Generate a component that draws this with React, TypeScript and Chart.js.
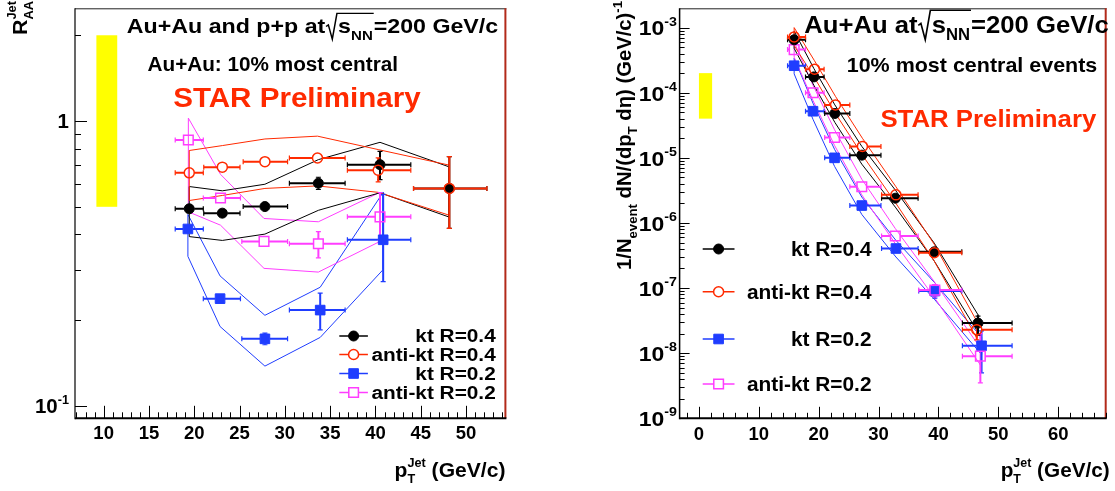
import React, { useEffect, useRef } from "react";
import { Chart, registerables } from "chart.js";

Chart.register(...registerables);

/* ================= Left panel : R_AA(Jet) vs pT ================= */
const L_KT04_PT = [19.45, 23.1, 27.8, 33.7, 40.5, 48.15];
const L_KT04_VAL = [0.492, 0.475, 0.501, 0.605, 0.703, 0.58];
const L_KT04_ERR_UP = [0.01, 0.01, 0.01, 0.03, 0.08, 0.17];
const L_KT04_ERR_DN = [0.01, 0.01, 0.01, 0.03, 0.08, 0.16];
const L_KT04_BIN_LO = [17.9, 21.05, 25.4, 30.5, 36.9, 44.2];
const L_KT04_BIN_HI = [21.0, 25.05, 30.3, 36.65, 43.9, 52.3];
const L_KT04_SYS_HI = [0.589, 0.569, 0.6, 0.732, 0.842, 0.69];
const L_KT04_SYS_LO = [0.393, 0.381, 0.401, 0.486, 0.56, 0.46];

const L_AKT04_PT = [19.45, 23.1, 27.8, 33.6, 40.3, 48.15];
const L_AKT04_VAL = [0.658, 0.689, 0.72, 0.742, 0.672, 0.58];
const L_AKT04_ERR_UP = [0.01, 0.01, 0.01, 0.015, 0.07, 0.17];
const L_AKT04_ERR_DN = [0.01, 0.01, 0.01, 0.015, 0.06, 0.16];
const L_AKT04_BIN_LO = [17.9, 21.05, 25.4, 30.5, 36.9, 44.2];
const L_AKT04_BIN_HI = [21.0, 25.05, 30.3, 36.65, 43.9, 52.3];
const L_AKT04_SYS_HI = [0.788, 0.82, 0.865, 0.885, 0.794, 0.7];
const L_AKT04_SYS_LO = [0.526, 0.548, 0.58, 0.592, 0.562, 0.467];

const L_KT02_PT = [19.3, 22.85, 27.8, 33.9, 40.85];
const L_KT02_VAL = [0.418, 0.238, 0.172, 0.217, 0.383];
const L_KT02_ERR_UP = [0.01, 0.005, 0.008, 0.032, 0.17];
const L_KT02_ERR_DN = [0.01, 0.005, 0.008, 0.032, 0.11];
const L_KT02_BIN_LO = [17.9, 21.0, 25.25, 30.5, 36.9];
const L_KT02_BIN_HI = [21.0, 25.1, 30.3, 36.65, 43.9];
const L_KT02_SYS_HI = [0.47, 0.286, 0.208, 0.261, 0.562];
const L_KT02_SYS_LO = [0.335, 0.19, 0.138, 0.174, 0.301];

const L_AKT02_PT = [19.35, 22.9, 27.7, 33.7, 40.5];
const L_AKT02_VAL = [0.858, 0.537, 0.378, 0.371, 0.461];
const L_AKT02_ERR_UP = [0.01, 0.01, 0.01, 0.038, 0.1];
const L_AKT02_ERR_DN = [0.01, 0.01, 0.01, 0.04, 0.08];
const L_AKT02_BIN_LO = [17.9, 21.0, 25.25, 30.5, 36.9];
const L_AKT02_BIN_HI = [21.0, 25.1, 30.3, 36.65, 43.9];
const L_AKT02_SYS_HI = [1.024, 0.65, 0.455, 0.443, 0.562];
const L_AKT02_SYS_LO = [0.48, 0.431, 0.304, 0.295, 0.378];

const L_NORM_BOX_PT = [9.2, 11.5];
const L_NORM_BOX_VAL = [0.5, 2.0];
const L_X_TICKS = [10, 15, 20, 25, 30, 35, 40, 45, 50];
const L_Y_TICKS = [0.1, 1];
const L_Y_TICK_LABELS = [["10", "-1"], ["1", ""]];

/* ================= Right panel : spectra ================= */
const R_BIN_LO = [14.8, 17.8, 21.0, 25.2, 30.5, 36.7, 44.0];
const R_BIN_HI = [17.8, 20.9, 25.2, 30.4, 36.6, 43.9, 52.3];

const R_KT04_PT = [15.9, 19.2, 22.7, 27.2, 32.8, 39.3, 46.6];
const R_KT04_VAL = [6.5e-4, 1.75e-4, 4.8e-5, 1.1e-5, 2.4e-6, 3.6e-7, 2.9e-8];
const R_KT04_ERR_UP = [2e-5, 6e-6, 1.5e-6, 4e-7, 1e-7, 2.5e-8, 8e-9];
const R_KT04_ERR_DN = [2e-5, 6e-6, 1.5e-6, 4e-7, 1e-7, 2.5e-8, 1e-8];
const R_KT04_SYS_HI = [8.8e-4, 2.35e-4, 6.5e-5, 1.5e-5, 3.2e-6, 4.9e-7, 3.9e-8];
const R_KT04_SYS_LO = [4.8e-4, 1.3e-4, 3.5e-5, 8.0e-6, 1.75e-6, 2.6e-7, 2.1e-8];

const R_AKT04_PT = [15.9, 19.3, 22.8, 27.3, 32.9, 39.3, 46.4];
const R_AKT04_VAL = [7.2e-4, 2.3e-4, 6.5e-5, 1.5e-5, 2.7e-6, 3.5e-7, 2.3e-8];
const R_AKT04_ERR_UP = [2.5e-5, 8e-6, 2e-6, 5e-7, 1e-7, 2.5e-8, 6e-9];
const R_AKT04_ERR_DN = [2.5e-5, 8e-6, 2e-6, 5e-7, 1e-7, 2.5e-8, 7e-9];
const R_AKT04_SYS_HI = [1.0e-3, 3.1e-4, 8.8e-5, 2.0e-5, 3.6e-6, 4.7e-7, 3.1e-8];
const R_AKT04_SYS_LO = [5.3e-4, 1.7e-4, 4.8e-5, 1.1e-5, 2.0e-6, 2.6e-7, 1.7e-8];

const R_KT02_PT = [15.9, 19.05, 22.65, 27.2, 32.9, 39.4, 47.2];
const R_KT02_VAL = [2.6e-4, 5.2e-5, 1.0e-5, 1.85e-6, 4.05e-7, 9.0e-8, 1.3e-8];
const R_KT02_ERR_UP = [1e-5, 2e-6, 4e-7, 8e-8, 2.5e-8, 2.2e-8, 9e-9];
const R_KT02_ERR_DN = [1e-5, 2e-6, 4e-7, 8e-8, 2.5e-8, 2e-8, 8e-9];
const R_KT02_SYS_HI = [3.4e-4, 6.9e-5, 1.35e-5, 2.5e-6, 5.4e-7, 1.2e-7, 1.75e-8];
const R_KT02_SYS_LO = [1.95e-4, 3.9e-5, 7.4e-6, 1.35e-6, 3.0e-7, 6.6e-8, 9.5e-9];

const R_AKT02_PT = [15.9, 19.05, 22.65, 27.2, 32.8, 39.4, 47.0];
const R_AKT02_VAL = [4.6e-4, 1.0e-4, 2.05e-5, 3.6e-6, 6.3e-7, 9.3e-8, 9.0e-9];
const R_AKT02_ERR_UP = [1.5e-5, 4e-6, 8e-7, 1.5e-7, 3e-8, 2e-8, 1.1e-8];
const R_AKT02_ERR_DN = [1.5e-5, 4e-6, 8e-7, 1.5e-7, 3e-8, 2e-8, 5.5e-9];
const R_AKT02_SYS_HI = [6.0e-4, 1.3e-4, 2.7e-5, 4.7e-6, 8.2e-7, 1.22e-7, 1.2e-8];
const R_AKT02_SYS_LO = [3.5e-4, 7.6e-5, 1.55e-5, 2.7e-6, 4.8e-7, 7.0e-8, 6.6e-9];

const R_NORM_BOX_PT = [0, 2.2];
const R_NORM_BOX_VAL = [4e-5, 2e-4];
const R_X_TICKS = [0, 10, 20, 30, 40, 50, 60];
const R_Y_TICKS = [1e-9, 1e-8, 1e-7, 1e-6, 1e-5, 1e-4, 1e-3];
const R_Y_TICK_LABELS = [["10", "-9"], ["10", "-8"], ["10", "-7"], ["10", "-6"], ["10", "-5"], ["10", "-4"], ["10", "-3"]];

const LEGEND_LABELS = ["kt R=0.4", "anti-kt R=0.4", "kt R=0.2", "anti-kt R=0.2"];

/* ================= styling ================= */
const FONT = '"Liberation Sans", Arial, Helvetica, sans-serif';
const BLACK = "#000000";
const RED = "#ff2a00";
const BLUE = "#1f3dff";
const MAGENTA = "#ff3dff";
const YELLOW = "#ffff00";
const FRAME_RIGHT = "#b22a1a";

type Seg = { t?: string; k?: number; dy?: number; sqrt?: Seg[]; sup?: Seg; sub?: Seg };

function setFont(ctx: CanvasRenderingContext2D, fs: number, k?: number) {
  ctx.font = `bold ${fs * (k ?? 1)}px ${FONT}`;
}
function segsWidth(ctx: CanvasRenderingContext2D, segs: Seg[], fs: number): number {
  let w = 0;
  for (const s of segs) {
    if (s.sqrt) w += fs * 0.55 + segsWidth(ctx, s.sqrt, fs) + fs * 0.04;
    else if (s.sup || s.sub) {
      w += Math.max(s.sup ? segsWidth(ctx, [s.sup], fs) : 0, s.sub ? segsWidth(ctx, [s.sub], fs) : 0);
    } else {
      setFont(ctx, fs, s.k);
      w += ctx.measureText(s.t || "").width;
    }
  }
  return w;
}
function segsDraw(ctx: CanvasRenderingContext2D, segs: Seg[], x: number, y: number, fs: number, color: string): number {
  for (const s of segs) {
    if (s.sqrt) {
      const inner = segsWidth(ctx, s.sqrt, fs);
      ctx.strokeStyle = color;
      ctx.lineWidth = fs * 0.065;
      ctx.beginPath();
      ctx.moveTo(x + fs * 0.03, y - fs * 0.32);
      ctx.lineTo(x + fs * 0.13, y - fs * 0.4);
      ctx.lineTo(x + fs * 0.3, y + fs * 0.28);
      ctx.lineTo(x + fs * 0.5, y - fs * 0.95);
      ctx.lineTo(x + fs * 0.55 + inner + fs * 0.04, y - fs * 0.95);
      ctx.stroke();
      x = segsDraw(ctx, s.sqrt, x + fs * 0.55, y, fs, color) + fs * 0.04;
    } else if (s.sup || s.sub) {
      let w = 0;
      if (s.sup) w = Math.max(w, segsDraw(ctx, [s.sup], x, y, fs, color) - x);
      if (s.sub) w = Math.max(w, segsDraw(ctx, [s.sub], x, y, fs, color) - x);
      x += w;
    } else {
      setFont(ctx, fs, s.k);
      ctx.fillStyle = color;
      ctx.fillText(s.t || "", x, y + (s.dy ?? 0) * fs);
      x += ctx.measureText(s.t || "").width;
    }
  }
  return x;
}
type TextOpt = { x: number; y: number; fs: number; color?: string; align?: "left" | "right" | "center"; fit?: number; sx?: number; rot?: boolean };
function drawRich(ctx: CanvasRenderingContext2D, segs: Seg[], o: TextOpt) {
  ctx.save();
  ctx.textAlign = "left";
  ctx.textBaseline = "alphabetic";
  const w = segsWidth(ctx, segs, o.fs);
  const sx = o.fit ? o.fit / w : o.sx ?? 1;
  ctx.translate(o.x, o.y);
  if (o.rot) ctx.rotate(-Math.PI / 2);
  ctx.scale(sx, 1);
  const start = o.align === "right" ? -w : o.align === "center" ? -w / 2 : 0;
  segsDraw(ctx, segs, start, 0, o.fs, o.color || BLACK);
  ctx.restore();
}

function line(ctx: CanvasRenderingContext2D, x0: number, y0: number, x1: number, y1: number) {
  ctx.beginPath();
  ctx.moveTo(x0, y0);
  ctx.lineTo(x1, y1);
  ctx.stroke();
}

interface Series {
  label: string; pt: number[]; val: number[]; up: number[]; dn: number[];
  lo: number[]; hi: number[]; sysHi: number[]; sysLo: number[];
  color: string; style: "circle" | "rect"; filled: boolean;
}

interface Panel {
  id: string; offsetX: number; canvasW: number; canvasH: number;
  xMin: number; xMax: number; yMin: number; yMax: number;
  yAxisW: number; padTop: number; padRight: number; xAxisH: number;
  series: Series[]; drawOrder: number[];
  boxX: number[]; boxY: number[];
  xMajor: number[]; xMinor: number[]; yMajor: number[]; yMinor: number[];
  xMajLen: number; xMinLen: number; yMajLen: number; yMinLen: number;
  leftW: number;
  xTickLabels: string[]; yTickLabels: string[][];
  tickFs: number; yTickFs: number; yTickSx: number; xLabelBase: number; yLabelRight: number;
  rCircle: number; rRect: number; errW: number;
  texts: { segs: Seg[]; o: TextOpt }[];
  legend: { rows: number[]; lx0: number; lx1: number; mx: number; right: number; fs: number; fit: number };
}

function drawMarker(ctx: CanvasRenderingContext2D, x: number, y: number, s: Series, P: Panel) {
  ctx.save();
  ctx.beginPath();
  if (s.style === "circle") ctx.arc(x, y, P.rCircle, 0, Math.PI * 2);
  else {
    const h = P.rRect * Math.SQRT1_2;
    ctx.rect(x - h, y - h, 2 * h, 2 * h);
  }
  ctx.fillStyle = s.filled ? s.color : "#ffffff";
  ctx.fill();
  ctx.strokeStyle = s.color;
  ctx.lineWidth = s.filled ? 1 : 1.5;
  ctx.stroke();
  ctx.restore();
}

function makePlugin(P: Panel) {
  let errDone = false;
  return {
    id: "rootstyle" + P.id,
    beforeDatasetsDraw(chart: any) {
      const ctx: CanvasRenderingContext2D = chart.ctx;
      const xs = chart.scales.x, ys = chart.scales.y;
      const x0 = xs.getPixelForValue(P.boxX[0]), x1 = xs.getPixelForValue(P.boxX[1]);
      const y0 = ys.getPixelForValue(P.boxY[0]), y1 = ys.getPixelForValue(P.boxY[1]);
      ctx.save();
      ctx.fillStyle = YELLOW;
      ctx.fillRect(x0, y1, x1 - x0, y0 - y1);
      ctx.restore();
      errDone = false;
    },
    beforeDatasetDraw(chart: any, args: any) {
      if (errDone || !chart.data.datasets[args.index].isMarker) return;
      errDone = true;
      const ctx: CanvasRenderingContext2D = chart.ctx;
      const xs = chart.scales.x, ys = chart.scales.y;
      const a = chart.chartArea;
      ctx.save();
      ctx.beginPath();
      ctx.rect(a.left, a.top, a.right - a.left, a.bottom - a.top);
      ctx.clip();
      ctx.lineWidth = P.errW;
      const cap = 2.5;
      for (const idx of [...P.drawOrder].reverse()) {
        const s = P.series[idx];
        ctx.strokeStyle = s.color;
        const g = s.style === "circle" ? P.rCircle : P.rRect * Math.SQRT1_2;
        for (let i = 0; i < s.pt.length; i++) {
          const x = xs.getPixelForValue(s.pt[i]);
          const y = ys.getPixelForValue(s.val[i]);
          const xl = xs.getPixelForValue(s.lo[i]);
          const xr = xs.getPixelForValue(s.hi[i]);
          const yt = ys.getPixelForValue(s.val[i] + s.up[i]);
          const yb = ys.getPixelForValue(s.val[i] - s.dn[i]);
          line(ctx, xl, y, x - g, y);
          line(ctx, x + g, y, xr, y);
          ctx.lineWidth = 1.2;
          line(ctx, xl, y - cap, xl, y + cap);
          line(ctx, xr, y - cap, xr, y + cap);
          ctx.lineWidth = P.errW;
          if (y - yt > g) {
            line(ctx, x, yt, x, y - g);
            ctx.lineWidth = 1.2;
            line(ctx, x - cap, yt, x + cap, yt);
            ctx.lineWidth = P.errW;
          }
          if (yb - y > g) {
            line(ctx, x, y + g, x, yb);
            ctx.lineWidth = 1.2;
            line(ctx, x - cap, yb, x + cap, yb);
            ctx.lineWidth = P.errW;
          }
        }
      }
      ctx.restore();
    },
    afterDraw(chart: any) {
      const ctx: CanvasRenderingContext2D = chart.ctx;
      const xs = chart.scales.x, ys = chart.scales.y;
      const a = chart.chartArea;
      ctx.save();
      // frame
      ctx.strokeStyle = "#222";
      ctx.lineWidth = 1;
      line(ctx, a.left, a.top + 0.5, a.right, a.top + 0.5);
      ctx.strokeStyle = FRAME_RIGHT;
      ctx.lineWidth = 2;
      line(ctx, a.right - 1, a.top, a.right - 1, a.bottom);
      ctx.strokeStyle = BLACK;
      ctx.lineWidth = P.leftW;
      line(ctx, a.left, a.top, a.left, a.bottom + 1);
      ctx.lineWidth = 2;
      line(ctx, a.left, a.bottom, a.right, a.bottom);
      // ticks
      ctx.lineWidth = 1;
      for (const v of P.xMajor) {
        const px = Math.round(xs.getPixelForValue(v)) + 0.5;
        line(ctx, px, a.bottom, px, a.bottom - P.xMajLen);
      }
      for (const v of P.xMinor) {
        const px = Math.round(xs.getPixelForValue(v)) + 0.5;
        line(ctx, px, a.bottom, px, a.bottom - P.xMinLen);
      }
      for (const v of P.yMajor) {
        const py = Math.round(ys.getPixelForValue(v)) + 0.5;
        line(ctx, a.left, py, a.left + P.yMajLen, py);
      }
      for (const v of P.yMinor) {
        const py = Math.round(ys.getPixelForValue(v)) + 0.5;
        line(ctx, a.left, py, a.left + P.yMinLen, py);
      }
      // tick labels
      P.xMajor.forEach((v, i) => {
        drawRich(ctx, [{ t: P.xTickLabels[i] }], { x: xs.getPixelForValue(v), y: P.xLabelBase, fs: P.tickFs, align: "center" });
      });
      P.yMajor.forEach((v, i) => {
        const [b, e] = P.yTickLabels[i];
        const segs: Seg[] = [{ t: b }];
        if (e) segs.push({ t: e, k: 0.62, dy: -0.48 });
        drawRich(ctx, segs, { x: P.yLabelRight, y: ys.getPixelForValue(v) + P.yTickFs * 0.38, fs: P.yTickFs, align: "right", sx: P.yTickSx });
      });
      // texts
      for (const t of P.texts) drawRich(ctx, t.segs, t.o);
      // legend
      const L = P.legend;
      setFont(ctx, L.fs);
      const sx = L.fit / ctx.measureText(LEGEND_LABELS[1]).width;
      LEGEND_LABELS.forEach((lab, i) => {
        const s = P.series[i];
        const y = L.rows[i];
        ctx.strokeStyle = s.color;
        ctx.lineWidth = 1.5;
        line(ctx, L.lx0, y, L.lx1, y);
        drawMarker(ctx, L.mx, y, s, P);
        drawRich(ctx, [{ t: lab }], { x: L.right, y: y + L.fs * 0.36, fs: L.fs, align: "right", sx });
      });
      ctx.restore();
    },
  };
}

function buildConfig(P: Panel): any {
  const datasets: any[] = [];
  for (const idx of P.drawOrder) {
    const s = P.series[idx];
    datasets.push({
      isMarker: true,
      label: s.label,
      data: s.pt.map((x, i) => ({ x, y: s.val[i] })),
      showLine: false,
      pointStyle: s.style,
      pointRadius: s.style === "circle" ? P.rCircle : P.rRect,
      pointHoverRadius: s.style === "circle" ? P.rCircle : P.rRect,
      pointBackgroundColor: s.filled ? s.color : "rgba(0,0,0,0)",
      pointBorderColor: s.color,
      pointBorderWidth: s.filled ? 1 : 1.5,
    });
  }
  for (const idx of P.drawOrder) {
    const s = P.series[idx];
    const upper = s.pt.map((x, i) => ({ x, y: s.sysHi[i] }));
    const lower = s.pt.map((x, i) => ({ x, y: s.sysLo[i] })).reverse();
    const poly = [...upper, ...lower, upper[0]];
    datasets.push({
      label: s.label + " sys",
      data: poly,
      showLine: true,
      borderColor: s.color,
      backgroundColor: s.color,
      borderWidth: 1,
      pointRadius: 0,
      pointHoverRadius: 0,
      fill: false,
      tension: 0,
    });
  }
  return {
    type: "scatter",
    data: { datasets },
    options: {
      responsive: false,
      maintainAspectRatio: false,
      animation: false,
      events: [],
      layout: { padding: { left: 0, top: P.padTop, right: P.padRight, bottom: 0 } },
      plugins: { legend: { display: false }, tooltip: { enabled: false } },
      scales: {
        x: {
          type: "linear", position: "bottom", min: P.xMin, max: P.xMax,
          grid: { display: false }, border: { display: false }, ticks: { display: false },
          afterFit: (s: any) => { s.height = P.xAxisH; },
        },
        y: {
          type: "logarithmic", position: "left", min: P.yMin, max: P.yMax,
          grid: { display: false }, border: { display: false }, ticks: { display: false },
          afterFit: (s: any) => { s.width = P.yAxisW; },
        },
      },
    },
    plugins: [makePlugin(P)],
  };
}

/* ================= panels ================= */
const leftSeries: Series[] = [
  { label: LEGEND_LABELS[0], pt: L_KT04_PT, val: L_KT04_VAL, up: L_KT04_ERR_UP, dn: L_KT04_ERR_DN, lo: L_KT04_BIN_LO, hi: L_KT04_BIN_HI, sysHi: L_KT04_SYS_HI, sysLo: L_KT04_SYS_LO, color: BLACK, style: "circle", filled: true },
  { label: LEGEND_LABELS[1], pt: L_AKT04_PT, val: L_AKT04_VAL, up: L_AKT04_ERR_UP, dn: L_AKT04_ERR_DN, lo: L_AKT04_BIN_LO, hi: L_AKT04_BIN_HI, sysHi: L_AKT04_SYS_HI, sysLo: L_AKT04_SYS_LO, color: RED, style: "circle", filled: false },
  { label: LEGEND_LABELS[2], pt: L_KT02_PT, val: L_KT02_VAL, up: L_KT02_ERR_UP, dn: L_KT02_ERR_DN, lo: L_KT02_BIN_LO, hi: L_KT02_BIN_HI, sysHi: L_KT02_SYS_HI, sysLo: L_KT02_SYS_LO, color: BLUE, style: "rect", filled: true },
  { label: LEGEND_LABELS[3], pt: L_AKT02_PT, val: L_AKT02_VAL, up: L_AKT02_ERR_UP, dn: L_AKT02_ERR_DN, lo: L_AKT02_BIN_LO, hi: L_AKT02_BIN_HI, sysHi: L_AKT02_SYS_HI, sysLo: L_AKT02_SYS_LO, color: MAGENTA, style: "rect", filled: false },
];
const rightSeries: Series[] = [
  { label: LEGEND_LABELS[0], pt: R_KT04_PT, val: R_KT04_VAL, up: R_KT04_ERR_UP, dn: R_KT04_ERR_DN, lo: R_BIN_LO, hi: R_BIN_HI, sysHi: R_KT04_SYS_HI, sysLo: R_KT04_SYS_LO, color: BLACK, style: "circle", filled: true },
  { label: LEGEND_LABELS[1], pt: R_AKT04_PT, val: R_AKT04_VAL, up: R_AKT04_ERR_UP, dn: R_AKT04_ERR_DN, lo: R_BIN_LO, hi: R_BIN_HI, sysHi: R_AKT04_SYS_HI, sysLo: R_AKT04_SYS_LO, color: RED, style: "circle", filled: false },
  { label: LEGEND_LABELS[2], pt: R_KT02_PT, val: R_KT02_VAL, up: R_KT02_ERR_UP, dn: R_KT02_ERR_DN, lo: R_BIN_LO, hi: R_BIN_HI, sysHi: R_KT02_SYS_HI, sysLo: R_KT02_SYS_LO, color: BLUE, style: "rect", filled: true },
  { label: LEGEND_LABELS[3], pt: R_AKT02_PT, val: R_AKT02_VAL, up: R_AKT02_ERR_UP, dn: R_AKT02_ERR_DN, lo: R_BIN_LO, hi: R_BIN_HI, sysHi: R_AKT02_SYS_HI, sysLo: R_AKT02_SYS_LO, color: MAGENTA, style: "rect", filled: false },
];

function rangeStep(a: number, b: number, step: number, skip: number[]): number[] {
  const out: number[] = [];
  for (let v = a; v <= b + 1e-9; v += step) {
    const r = Math.round(v * 1000) / 1000;
    if (!skip.some((s) => Math.abs(s - r) < 1e-6)) out.push(r);
  }
  return out;
}
function logMinors(d0: number, d1: number, max: number): number[] {
  const out: number[] = [];
  for (let d = d0; d <= d1; d++) for (let m = 2; m <= 9; m++) {
    const v = m * Math.pow(10, d);
    if (v < max) out.push(v);
  }
  return out;
}

const CANVAS_H = 491;

const SQRT_S: Seg = { sqrt: [{ t: "s" }, { t: "NN", k: 0.65, dy: 0.3 }] };
const PT_TITLE: Seg[] = [{ t: "p" }, { sup: { t: "Jet", k: 0.6, dy: -0.5 }, sub: { t: "T", k: 0.6, dy: 0.3 } }, { t: " (GeV/c)" }];

const LEFT: Panel = {
  id: "L", offsetX: 0, canvasW: 540, canvasH: CANVAS_H,
  xMin: 6.84, xMax: 54.45, yMin: 0.0905, yMax: 2.487,
  yAxisW: 75, padTop: 1, padRight: 540 - 506.4, xAxisH: CANVAS_H - 418.3,
  series: leftSeries, drawOrder: [1, 0, 3, 2],
  boxX: L_NORM_BOX_PT, boxY: L_NORM_BOX_VAL,
  xMajor: L_X_TICKS, xMinor: rangeStep(7, 54, 1, L_X_TICKS), yMajor: L_Y_TICKS, yMinor: logMinors(-1, 0, 2.487),
  xMajLen: 12.5, xMinLen: 6, yMajLen: 12, yMinLen: 6, leftW: 1.2,
  xTickLabels: L_X_TICKS.map(String), yTickLabels: L_Y_TICK_LABELS,
  tickFs: 18.5, yTickFs: 19.5, yTickSx: 1.05, xLabelBase: 439.3, yLabelRight: 69,
  rCircle: 5, rRect: 6.8, errW: 2,
  texts: [
    { segs: [{ t: "Au+Au and p+p at" }, SQRT_S, { t: "=200 GeV/c" }], o: { x: 126.8, y: 33.3, fs: 21, fit: 371.4 } },
    { segs: [{ t: "Au+Au: 10% most central" }], o: { x: 147.5, y: 71, fs: 20, fit: 250.5 } },
    { segs: [{ t: "STAR Preliminary" }], o: { x: 173.2, y: 106.7, fs: 27, fit: 247.5, color: RED } },
    { segs: PT_TITLE, o: { x: 505.4, y: 476.5, fs: 20, fit: 110.8, align: "right" } },
    { segs: [{ t: "R" }, { sup: { t: "Jet", k: 0.6, dy: -0.5 }, sub: { t: "AA", k: 0.6, dy: 0.3 } }], o: { x: 26.7, y: 1, fs: 21, fit: 34, align: "right", rot: true } },
  ],
  legend: { rows: [336, 354.5, 373.5, 392.5], lx0: 339.3, lx1: 367.9, mx: 353.6, right: 495.7, fs: 18, fit: 124.3 },
};

const RO = 540;
const RIGHT: Panel = {
  id: "R", offsetX: RO, canvasW: 1115 - RO, canvasH: CANVAS_H,
  xMin: -3.23, xMax: 68.1, yMin: 1e-9, yMax: 1.98e-3,
  yAxisW: 679.6 - RO, padTop: 1, padRight: 1115 - 1109.7, xAxisH: CANVAS_H - 418.3,
  series: rightSeries, drawOrder: [1, 0, 3, 2],
  boxX: R_NORM_BOX_PT, boxY: R_NORM_BOX_VAL,
  xMajor: R_X_TICKS, xMinor: rangeStep(-2, 68, 2, R_X_TICKS), yMajor: R_Y_TICKS, yMinor: logMinors(-9, -3, 1.98e-3),
  xMajLen: 11.5, xMinLen: 5.5, yMajLen: 10, yMinLen: 5, leftW: 1.5,
  xTickLabels: R_X_TICKS.map(String), yTickLabels: R_Y_TICK_LABELS,
  tickFs: 18.5, yTickFs: 20.5, yTickSx: 1.12, xLabelBase: 440, yLabelRight: 677 - RO,
  rCircle: 5, rRect: 6.8, errW: 2,
  texts: [
    { segs: [{ t: "Au+Au at" }, SQRT_S, { t: "=200 GeV/c" }], o: { x: 804.2 - RO, y: 33, fs: 24, fit: 304.5 } },
    { segs: [{ t: "10% most central events" }], o: { x: 846.7 - RO, y: 71.7, fs: 21, fit: 250.6 } },
    { segs: [{ t: "STAR Preliminary" }], o: { x: 880.4 - RO, y: 127.3, fs: 24, fit: 215.9, color: RED } },
    { segs: PT_TITLE, o: { x: 1109.7 - RO, y: 476.5, fs: 20, fit: 109, align: "right" } },
    {
      segs: [{ t: "1/N" }, { t: "event", k: 0.65, dy: 0.3 }, { t: " dN/(dp" }, { t: "T", k: 0.65, dy: 0.3 }, { t: " dη) (GeV/c)" }, { t: "-1", k: 0.65, dy: -0.45 }],
      o: { x: 631 - RO, y: 1, fs: 20.5, fit: 269, align: "right", rot: true },
    },
  ],
  legend: { rows: [249, 291.7, 339, 384], lx0: 702.7 - RO, lx1: 734.5 - RO, mx: 718.6 - RO, right: 871.5 - RO, fs: 20, fit: 124.6 },
};

function PanelCanvas({ panel }: { panel: Panel }) {
  const ref = useRef<HTMLCanvasElement>(null);
  useEffect(() => {
    if (!ref.current) return;
    const chart = new Chart(ref.current, buildConfig(panel));
    return () => chart.destroy();
  }, [panel]);
  return (
    <canvas
      ref={ref}
      width={panel.canvasW}
      height={panel.canvasH}
      style={{ position: "absolute", left: panel.offsetX, top: 0, width: panel.canvasW, height: panel.canvasH }}
    />
  );
}

export default function App() {
  return (
    <div style={{ position: "fixed", left: 0, top: 0, width: 1115, height: 491, background: "#ffffff", overflow: "hidden" }}>
      <PanelCanvas panel={LEFT} />
      <PanelCanvas panel={RIGHT} />
    </div>
  );
}
